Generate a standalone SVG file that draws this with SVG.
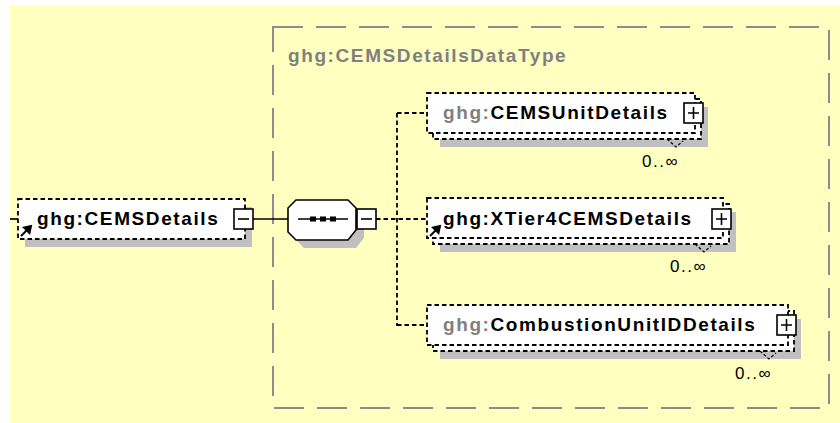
<svg xmlns="http://www.w3.org/2000/svg" width="840" height="423" viewBox="0 0 840 423">
  <defs>
    <style>
      .bg { fill: #FFFFC0; }
      .frame { fill: none; stroke: #8C8C8C; stroke-width: 2; stroke-dasharray: 30 13; }
      .typename { font-family: "Liberation Sans", Arial, sans-serif; font-weight: bold; font-size: 19px; letter-spacing: 1.6px; fill: #808080; }
      .shadow { fill: #C0C0C0; }
      .box { fill: #FFFFFF; stroke: #000000; stroke-width: 1.8; stroke-dasharray: 4.5 3; }
      .name { font-family: "Liberation Sans", Arial, sans-serif; font-weight: bold; font-size: 19px; letter-spacing: 1.6px; fill: #000000; }
      .ns { fill: #808080; }
      .toggle { fill: #FFFFFF; stroke: #000000; stroke-width: 1.6; }
      .sign { fill: none; stroke: #000000; stroke-width: 1.6; }
      .solid { fill: none; stroke: #000000; stroke-width: 1.7; }
      .dashed { fill: none; stroke: #000000; stroke-width: 1.8; stroke-dasharray: 4.5 3; }
      .occurs { font-family: "Liberation Sans", Arial, sans-serif; font-size: 17px; letter-spacing: 1.5px; fill: #000000; }
      .notch { fill: none; stroke: #000000; stroke-width: 1.2; stroke-dasharray: 3 2; }
      .ref { fill: #000000; stroke: #000000; stroke-width: 2; }
    </style>
  </defs>

  <!-- canvas -->
  <rect class="bg" x="10" y="6" width="830" height="417"/>

  <!-- complex type frame -->
  <g id="type-frame">
    <rect class="frame" x="273" y="27" width="556" height="381"/>
    <text class="typename" x="288" y="62">ghg:CEMSDetailsDataType</text>
  </g>

  <!-- connectors -->
  <g id="connectors">
    <line class="solid" x1="10" y1="219" x2="18" y2="219"/>
    <line class="solid" x1="253" y1="219" x2="288" y2="219"/>
    <line class="dashed" x1="376" y1="219" x2="427" y2="219"/>
    <line class="dashed" x1="397" y1="113" x2="397" y2="326"/>
    <line class="dashed" x1="397" y1="113" x2="427" y2="113"/>
    <line class="dashed" x1="397" y1="325" x2="427" y2="325"/>
  </g>

  <!-- root element -->
  <g id="node-CEMSDetails">
    <rect class="shadow" x="25" y="207" width="227" height="40"/>
    <rect class="box" x="18" y="199" width="227" height="40"/>
    <text class="name" x="37" y="225">ghg:CEMSDetails</text>
    <path class="ref" d="M21 236 L28 229"/>
    <polygon class="ref" points="31,226 24,227.5 29.5,233" stroke-width="1"/>
    <rect class="toggle" x="234" y="209" width="19" height="20"/>
    <line class="sign" x1="238" y1="219" x2="249" y2="219"/>
  </g>

  <!-- sequence compositor -->
  <g id="node-sequence">
    <polygon class="shadow" points="304,208 356,208 364,216 364,238 356,248 304,248 296,240 296,216"/>
    <polygon fill="#FFFFFF" stroke="#000000" stroke-width="1.6" points="296,200 348,200 356,208 356,230 348,240 296,240 288,232 288,208"/>
    <line class="solid" x1="298" y1="219" x2="348" y2="219"/>
    <rect x="310" y="216.5" width="6" height="5" fill="#000000"/>
    <rect x="320" y="216.5" width="6" height="5" fill="#000000"/>
    <rect x="330" y="216.5" width="6" height="5" fill="#000000"/>
    <rect class="toggle" x="357" y="209" width="19" height="20"/>
    <line class="sign" x1="361" y1="219" x2="372" y2="219"/>
  </g>

  <!-- child: CEMSUnitDetails -->
  <g id="node-CEMSUnitDetails">
    <rect class="shadow" x="440" y="107" width="268" height="40"/>
    <rect class="box" x="433" y="99" width="268" height="40"/>
    <rect class="box" x="427" y="93" width="268" height="40"/>
    <text class="name" x="443" y="119"><tspan class="ns">ghg:</tspan>CEMSUnitDetails</text>
    <rect class="toggle" x="684" y="103" width="19" height="20"/>
    <path class="sign" d="M688 113 H699 M693.5 107 V119"/>
    <polyline class="notch" points="667,139 676,147 683,141"/>
    <text class="occurs" x="642" y="167">0..∞</text>
  </g>

  <!-- child: XTier4CEMSDetails -->
  <g id="node-XTier4CEMSDetails">
    <rect class="shadow" x="440" y="212" width="296" height="40"/>
    <rect class="box" x="433" y="204" width="296" height="40"/>
    <rect class="box" x="427" y="198" width="296" height="40"/>
    <text class="name" x="443" y="225">ghg:XTier4CEMSDetails</text>
    <path class="ref" d="M430 236 L437 229"/>
    <polygon class="ref" points="440,226 433,227.5 438.5,233" stroke-width="1"/>
    <rect class="toggle" x="712" y="209" width="19" height="20"/>
    <path class="sign" d="M716 219 H727 M721.5 213 V225"/>
    <polyline class="notch" points="695,244 704,252 711,246"/>
    <text class="occurs" x="670" y="272">0..∞</text>
  </g>

  <!-- child: CombustionUnitIDDetails -->
  <g id="node-CombustionUnitIDDetails">
    <rect class="shadow" x="440" y="319" width="361" height="40"/>
    <rect class="box" x="433" y="311" width="361" height="40"/>
    <rect class="box" x="427" y="305" width="361" height="40"/>
    <text class="name" x="443" y="331"><tspan class="ns">ghg:</tspan>CombustionUnitIDDetails</text>
    <rect class="toggle" x="777" y="315" width="19" height="20"/>
    <path class="sign" d="M781 325 H792 M786.5 319 V331"/>
    <polyline class="notch" points="760,351 769,359 776,353"/>
    <text class="occurs" x="735" y="379">0..∞</text>
  </g>
</svg>
